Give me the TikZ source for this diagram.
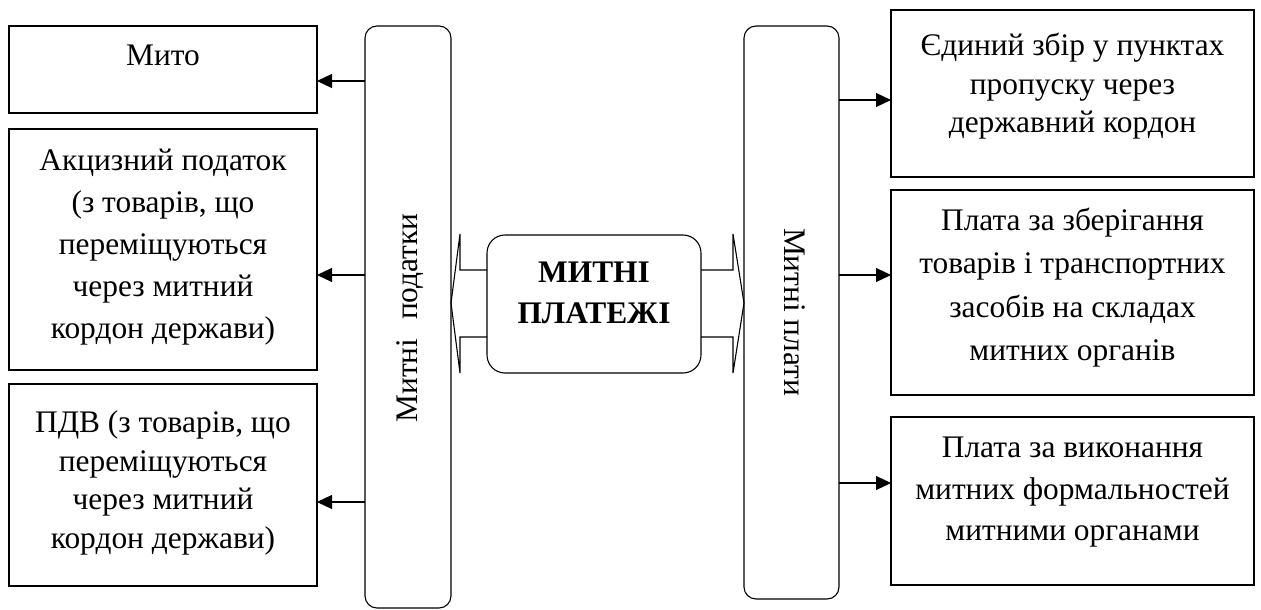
\documentclass[tikz,border=0pt]{standalone}
\usepackage{fontspec}
\setmainfont{Liberation Serif}
\usetikzlibrary{arrows.meta,calc}
\begin{document}
\begin{tikzpicture}[x=1pt,y=-1pt,line width=1.1pt,
  box/.style={draw,rectangle,inner sep=0pt,outer sep=0pt},
  tall/.style={draw,rectangle,rounded corners=12pt,inner sep=0pt,outer sep=0pt},
  txt/.style={inner sep=0pt,align=center,anchor=north},
  arr/.style={-{Triangle[length=15pt,width=14pt]},line width=1.1pt},
  blk/.style={line width=1.1pt,line join=miter}]
\useasboundingbox (0,0) rectangle (1261,610);
% left boxes
\node[box,minimum width=308pt,minimum height=87pt] (mito) at (163,69.5) {};
\node[box,minimum width=308pt,minimum height=241pt] (akc) at (163,249.5) {};
\node[box,minimum width=308pt,minimum height=202pt] (pdv) at (163,485) {};
% right boxes
\node[box,minimum width=363pt,minimum height=167pt] (edyn) at (1072.5,93.5) {};
\node[box,minimum width=363pt,minimum height=205pt] (zber) at (1072.5,292.5) {};
\node[box,minimum width=363pt,minimum height=168pt] (vyk) at (1072.5,501) {};
% tall boxes
\node[tall,minimum width=86pt,minimum height=582pt] (ltall) at (408,317) {};
\node[tall,minimum width=95pt,minimum height=573pt] (rtall) at (791.5,312.5) {};
% centre
\node[draw,rectangle,rounded corners=18pt,minimum width=214pt,minimum height=138pt,inner sep=0pt,outer sep=0pt] (cen) at (594,304) {};
% texts
\node[txt,font=\fontsize{31.4}{38.5}\selectfont] (tmito) at (163,38) {\strut Мито};
\node[txt,font=\fontsize{31.4}{42}\selectfont] (takc) at (163,140.6) {\strut Акцизний податок\\(з товарів, що\\переміщуються\\через митний\\кордон держави)};
\node[txt,font=\fontsize{31.4}{38.7}\selectfont] (tpdv) at (163,404.9) {\strut ПДВ (з товарів, що\\переміщуються\\через митний\\кордон держави)};
\node[txt,font=\fontsize{31.4}{38.5}\selectfont] (tedyn) at (1072.5,28) {\strut Єдиний збір у пунктах\\пропуску через\\державний кордон};
\node[txt,font=\fontsize{31.4}{43.3}\selectfont] (tzber) at (1072.5,199.7) {\strut Плата за зберігання\\товарів і транспортних\\засобів на складах\\митних органів};
\node[txt,font=\fontsize{31.4}{41.5}\selectfont] (tvyk) at (1072.5,428) {\strut Плата за виконання\\митних формальностей\\митними органами};
\node[txt,font=\fontsize{31.4}{41}\selectfont\bfseries] (tcen) at (594,253.3) {\strut МИТНІ\\ПЛАТЕЖІ};
\node[inner sep=0pt,rotate=90,font=\fontsize{31.4}{36}\selectfont] (tl) at (410,318) {Митні\hspace{0.6em}податки};
\node[inner sep=0pt,rotate=-90,font=\fontsize{31.4}{36}\selectfont] (tr) at (795,312) {Митні плати};
% connectors
\draw[arr] (ltall.west |- 0,81) -- (mito.east |- 0,81);
\draw[arr] (ltall.west |- 0,275) -- (akc.east |- 0,275);
\draw[arr] (ltall.west |- 0,502) -- (pdv.east |- 0,502);
\draw[arr] (rtall.east |- 0,100) -- (edyn.west |- 0,100);
\draw[arr] (rtall.east |- 0,275) -- (zber.west |- 0,275);
\draw[arr] (rtall.east |- 0,483) -- (vyk.west |- 0,483);
% block arrows
\draw[blk] (cen.west |- 0,270) -- (460,270) -- (460,234) -- (ltall.east |- 0,303) -- (460,373) -- (460,337) -- (cen.west |- 0,337);
\draw[blk] (cen.east |- 0,270) -- (733,270) -- (733,234) -- (rtall.west |- 0,303) -- (733,373) -- (733,337) -- (cen.east |- 0,337);
\end{tikzpicture}
\end{document}
